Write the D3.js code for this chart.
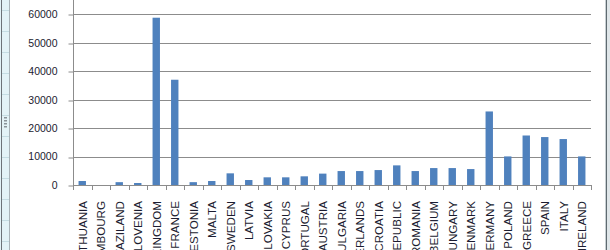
<!DOCTYPE html>
<html>
<head>
<meta charset="utf-8">
<script src="https://cdn.jsdelivr.net/npm/d3@7"></script>
<style>
  body { margin: 0; background: #fff; }
  svg { display: block; }
  text { font-family: "Liberation Sans", Arial, sans-serif; }
</style>
</head>
<body>
<svg id="canvas"></svg>
<script>
// chart data
let countries = ['LITHUANIA', 'LUXEMBOURG', 'SWAZILAND', 'SLOVENIA', 'UNITED KINGDOM', 'FRANCE', 'ESTONIA',
  'MALTA', 'SWEDEN', 'LATVIA', 'SLOVAKIA', 'CYPRUS', 'PORTUGAL', 'AUSTRIA', 'BULGARIA', 'NETHERLANDS',
  'CROATIA', 'CZECH REPUBLIC', 'ROMANIA', 'BELGIUM', 'HUNGARY', 'DENMARK', 'GERMANY', 'POLAND',
  'GREECE', 'SPAIN', 'ITALY', 'IRELAND']
let values = [1400, 0, 1000, 700, 58800, 37000, 1000,
  1400, 4100, 1750, 2700, 2700, 3050, 4000, 4900, 4900,
  5250, 6900, 4900, 5950, 5950, 5600, 25850, 10050,
  17400, 16850, 16150, 10050]
let yTicks = [0, 10000, 20000, 30000, 40000, 50000, 60000]

let width = 610
let height = 250
let left = 73
let right = 591
let bottom = 185

let canvas = d3.select('#canvas').attr('width', width).attr('height', height)

// window frame bits (spreadsheet edges)
canvas.append('rect').attr('x', 0).attr('y', 0).attr('width', 10).attr('height', height).attr('fill', '#e3f3f7')
canvas.append('line').attr('x1', 1.5).attr('x2', 1.5).attr('y1', 0).attr('y2', height).attr('stroke', '#6d7378')
canvas.append('line').attr('x1', 9.5).attr('x2', 9.5).attr('y1', 0).attr('y2', height).attr('stroke', '#a9b3b8')
canvas.selectAll('.rowline')
  .data(d3.range(12))
  .enter()
  .append('line')
  .attr('class', 'rowline')
  .attr('x1', 2).attr('x2', 9)
  .attr('y1', (d) => d * 21 + 10.5).attr('y2', (d) => d * 21 + 10.5)
  .attr('stroke', '#c5dde3')
canvas.selectAll('.grip')
  .data([117, 120, 123, 126])
  .enter()
  .append('rect')
  .attr('class', 'grip')
  .attr('x', 4).attr('y', (d) => d).attr('width', 3).attr('height', 1.5)
  .attr('fill', '#8a9499')
canvas.append('line').attr('x1', 605.5).attr('x2', 605.5).attr('y1', 0).attr('y2', height).attr('stroke', '#c8cfd3')
canvas.append('line').attr('x1', 606.5).attr('x2', 606.5).attr('y1', 0).attr('y2', height).attr('stroke', '#5f6a70')
canvas.append('rect').attr('x', 607).attr('y', 0).attr('width', 3).attr('height', height).attr('fill', '#dfe6e9')

// scales
let yScale = d3.scaleLinear().domain([0, 60000]).range([bottom, 14.3])
let xCat = d3.scaleBand().domain(countries).range([left, right])
let xBar = d3.scaleBand().domain(countries).range([left, right]).paddingInner(0.6).paddingOuter(0.3)

// gridlines
canvas.append('g')
  .selectAll('line')
  .data(yTicks.filter((t) => t > 0))
  .enter()
  .append('line')
  .attr('x1', left).attr('x2', right)
  .attr('y1', (d) => Math.round(yScale(d)) + 0.5)
  .attr('y2', (d) => Math.round(yScale(d)) + 0.5)
  .attr('stroke', '#8c8c8c')

// y axis
let yAxis = d3.axisLeft(yScale).tickValues(yTicks).tickSize(5).tickPadding(11).tickFormat(d3.format('d'))
let yG = canvas.append('g').attr('transform', 'translate(' + (left + 0.5) + ',0)').call(yAxis)
yG.select('.domain').remove()
yG.selectAll('.tick line').attr('stroke', '#8c8c8c')
  .attr('transform', (d) => 'translate(0,' + (Math.round(yScale(d)) + 0.5 - yScale(d)) + ')')
yG.selectAll('.tick text').attr('fill', '#1c1c30')
  .attr('font-family', '"DejaVu Sans", sans-serif').style('font-size', '10.5px')
canvas.append('line')
  .attr('x1', left + 0.5).attr('x2', left + 0.5).attr('y1', 0).attr('y2', bottom + 5)
  .attr('stroke', '#8c8c8c')

// bars
canvas.append('g')
  .selectAll('rect')
  .data(countries)
  .enter()
  .append('rect')
  .attr('x', (d) => xBar(d))
  .attr('width', xBar.bandwidth())
  .attr('y', (d, i) => yScale(values[i]))
  .attr('height', (d, i) => bottom - yScale(values[i]))
  .attr('fill', '#4f81bd')

// x axis line + ticks at category edges
canvas.append('line')
  .attr('x1', left).attr('x2', right + 0.5).attr('y1', bottom + 0.5).attr('y2', bottom + 0.5)
  .attr('stroke', '#8c8c8c')
canvas.append('g')
  .selectAll('line')
  .data(countries.concat(['end']))
  .enter()
  .append('line')
  .attr('x1', (d, i) => Math.round(left + i * xCat.step()) + 0.5)
  .attr('x2', (d, i) => Math.round(left + i * xCat.step()) + 0.5)
  .attr('y1', bottom).attr('y2', bottom + 5)
  .attr('stroke', '#8c8c8c')

// category labels, rotated
canvas.append('g')
  .selectAll('text')
  .data(countries)
  .enter()
  .append('text')
  .attr('transform', (d) => 'translate(' + (xCat(d) + xCat.bandwidth() / 2 + 4.3) + ',' + 201 + ') rotate(-90)')
  .attr('text-anchor', 'end')
  .attr('font-size', '11.6px')
  .attr('fill', '#1c1c30')
  .text((d) => d)
</script>
</body>
</html>
